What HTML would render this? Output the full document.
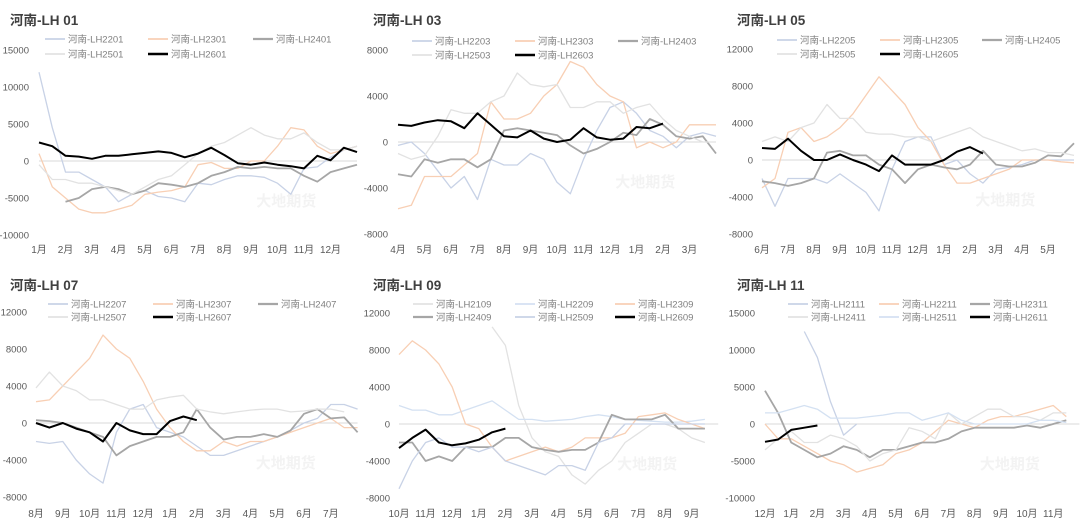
<!DOCTYPE html>
<html><head><meta charset="utf-8"><style>
html,body{margin:0;padding:0;background:#fff;}
svg{display:block;font-family:"Liberation Sans","Noto Sans CJK SC",sans-serif;}
</style></head><body>
<svg id="chart" width="1080" height="529" viewBox="0 0 1080 529"></svg>
<script>
// ---- data (values in yuan, sampled every half month from series start) ----
const months01 = ['1月','2月','3月','4月','5月','6月','7月','8月','9月','10月','11月','12月'];
const months03 = ['4月','5月','6月','7月','8月','9月','10月','11月','12月','1月','2月','3月'];
const months05 = ['6月','7月','8月','9月','10月','11月','12月','1月','2月','3月','4月','5月'];
const months07 = ['8月','9月','10月','11月','12月','1月','2月','3月','4月','5月','6月','7月'];
const months09 = ['10月','11月','12月','1月','2月','3月','4月','5月','6月','7月','8月','9月'];
const months11 = ['12月','1月','2月','3月','4月','5月','6月','7月','8月','9月','10月','11月'];
const ticks01 = [15000,10000,5000,0,-5000,-10000];
const ticks03 = [8000,4000,0,-4000,-8000];
const ticks05 = [12000,8000,4000,0,-4000,-8000];

const lh2201 = [12000,4500,-1500,-1500,-2500,-3500,-5500,-4500,-4000,-4800,-5000,-5500,-3000,-3200,-2500,-2000,-2000,-2200,-3000,-4500,-1000,-800,500,1500,2000];
const lh2301 = [1000,-3500,-5000,-6500,-7000,-7000,-6500,-6000,-4500,-4200,-4000,-3500,-500,-200,-1000,-1000,0,0,2000,4500,4200,2000,1000,1500,2000];
const lh2401 = [-5500,-5000,-3800,-3500,-3800,-4500,-4000,-3000,-3200,-3500,-3000,-2000,-1500,-800,-1000,-800,-1000,-1000,-2000,-2800,-1500,-1000,-500];
const lh2501 = [-500,-2500,-2500,-3000,-3000,-3500,-4000,-4500,-3500,-2500,-2000,-500,1000,2000,2500,3500,4500,3500,3000,3000,3800,2500,1500,1500,2000];
const lh2601 = [2500,2000,700,600,300,700,700,900,1100,1300,1100,500,1000,1800,800,-300,-500,-200,-500,-700,-1000,700,100,1800,1200];

const lh2203 = [-300,0,-1000,-2500,-4000,-3000,-5000,-1500,-2000,-2000,-1000,-1500,-3500,-4500,-1500,1000,3000,3500,2500,1000,500,-500,500,800,500];
const lh2303 = [-5800,-5500,-3000,-3000,-3000,-2000,-1000,3500,2000,2000,2500,4000,5000,7000,6500,5000,4000,3500,-500,0,-500,0,1500,1500,1500];
const lh2403 = [-2800,-3000,-1500,-1800,-1500,-1500,-2200,-1500,1000,1200,1000,800,600,-300,-1000,-600,0,800,600,2000,1500,500,300,500,-1000];
const lh2503 = [-1000,-1500,-1200,500,2800,2500,2500,3500,4000,6000,5000,4800,5000,3000,3000,3500,3500,2500,3000,3300,2000,1000,500,0,0];
const lh2603 = [1500,1400,1700,1900,1800,1200,2500,1500,500,400,1000,300,0,200,1200,400,200,300,1300,1200,1600];

const lh2205 = [-2000,-5000,-2000,-2000,-2000,-2500,-1500,-2500,-3500,-5500,-1000,2000,2500,2500,-500,0,-1500,-2500,-1000,-800,-500,0,0,0,0];
const lh2305 = [-3000,-2000,3000,3500,2000,2500,3500,5000,7000,9000,7500,6000,3500,2000,-500,-2500,-2500,-2000,-1500,-1000,0,0,0,-200,-300];
const lh2405 = [-2300,-2500,-2800,-2500,-2000,800,1000,500,500,-500,-1000,-2500,-1000,-500,-800,-1000,-500,1000,-500,-700,-700,-300,500,400,1800];
const lh2505 = [2000,2500,2000,3500,4000,6000,4500,4500,3000,2800,2800,2500,2500,2000,2500,3000,3500,2500,2000,1500,1000,1200,800,800,500];
const lh2605 = [1300,1200,2300,1000,0,0,600,0,-500,-1200,500,-500,-500,-500,0,900,1400,700];

const lh2207 = [-2000,-2200,-2000,-4000,-5500,-6500,-1000,1500,2000,-500,-1000,-1500,-2500,-3500,-3500,-3000,-2500,-2000,-1500,-800,0,500,2000,2000,1500];
const lh2307 = [2300,2500,4000,5500,7000,9500,8000,7000,4500,1500,-500,-2000,-3000,-3000,-2000,-2500,-2000,-2000,-1500,-1000,-500,0,500,-500,-500];
const lh2407 = [300,200,0,-500,-1000,-1500,-3500,-2500,-2000,-1500,-1500,-1000,1500,-500,-1800,-1500,-1500,-1200,-1500,-800,1000,1500,500,600,-1000];
const lh2507 = [3800,5500,4000,3500,2500,2500,2000,1500,1500,2500,2800,3000,1500,1200,1000,1200,1400,1500,1500,1200,1300,1500,1500,1200];
const lh2607 = [0,-500,0,-600,-1000,-2000,0,-800,-1200,-1200,200,700,300];

const lh2109 = [10500,8500,2000,-1500,-3000,-3500,-5500,-6500,-5000,-4000,-2000,-1000,0,0,-500,-1500,-2000];
const lh2209 = [2000,1500,1500,1000,1000,1500,2000,2500,1500,500,500,300,400,500,800,1000,800,500,400,300,200,200,300,500];
const lh2309 = [7500,9000,8000,6500,4000,0,-500,-2500,-4000,-3500,-3000,-2500,-3000,-2500,-1500,-1500,-1500,-1000,800,1000,1200,500,0,-500];
const lh2409 = [-2000,-2000,-4000,-3500,-4000,-2500,-2500,-2500,-1500,-1500,-2500,-2800,-3000,-2800,-2800,-2000,1000,500,500,500,1000,-500,-500,-500];
const lh2509 = [-7000,-4000,-2000,-1500,-2500,-2500,-3000,-2500,-4000,-4500,-5000,-5500,-4500,-4500,-5000,-2000,-1500,0,0,0,0,0,0,0];
const lh2609 = [-2600,-1500,-600,-2000,-2300,-2100,-1700,-900,-500];

const lh2111 = [12500,9000,3000,-1500,0];
const lh2211 = [0,-2000,-2000,-3000,-4000,-5000,-5500,-6500,-6000,-5500,-4000,-3500,-2500,-1000,500,0,-500,500,1000,1000,1500,2000,2500,1000];
const lh2311 = [4500,1500,-2500,-3500,-4500,-4000,-3000,-3500,-4500,-3500,-3500,-3000,-2500,-2500,-2000,-1000,-500,-500,-500,-500,-200,-500,0,500];
const lh2411 = [-3500,-2000,-1000,-2500,-2500,-1500,-2000,-3000,-5000,-4000,-3500,-500,-1000,-2000,1500,0,1000,2000,2000,1000,1000,500,1500,1500];
const lh2511 = [1500,1500,2000,2500,2000,800,800,800,1000,1200,1500,1500,500,1000,1500,500,0,0,0,0,0,500,500,200];
const lh2611 = [-2400,-2100,-800,-500,-200];

const C_BLUE='#c8d2e6', C_ORANGE='#f8cfb4', C_GRAY='#a6a6a6', C_LIGHT='#e2e2e2', C_LBLUE='#d4e1f2', C_BLACK='#000';

const panels = [
 {title:'河南-LH 01', tx:10, ty:25, x0:39, mw:26.5, zy:161, ppu:37/5000, ticks:ticks01, lr:29, months:months01, my:253, leg:[45,148,253], ly:[39,54],
  series:[['河南-LH2201',C_BLUE,1.3,0,lh2201],['河南-LH2301',C_ORANGE,1.3,0,lh2301],['河南-LH2401',C_GRAY,1.8,1,lh2401],['河南-LH2501',C_LIGHT,1.3,0,lh2501],['河南-LH2601',C_BLACK,2,0,lh2601]]},
 {title:'河南-LH 03', tx:373, ty:25, x0:398, mw:26.5, zy:142, ppu:46/4000, ticks:ticks03, lr:388, months:months03, my:253, leg:[412,515,618], ly:[41,55],
  series:[['河南-LH2203',C_BLUE,1.3,0,lh2203],['河南-LH2303',C_ORANGE,1.3,0,lh2303],['河南-LH2403',C_GRAY,1.8,0,lh2403],['河南-LH2503',C_LIGHT,1.3,0,lh2503],['河南-LH2603',C_BLACK,2,0,lh2603]]},
 {title:'河南-LH 05', tx:737, ty:25, x0:762, mw:26.0, zy:160, ppu:37/4000, ticks:ticks05, lr:753, months:months05, my:253, leg:[777,880,982], ly:[40,54],
  series:[['河南-LH2205',C_BLUE,1.3,0,lh2205],['河南-LH2305',C_ORANGE,1.3,0,lh2305],['河南-LH2405',C_GRAY,1.8,0,lh2405],['河南-LH2505',C_LIGHT,1.3,0,lh2505],['河南-LH2605',C_BLACK,2,0,lh2605]]},
 {title:'河南-LH 07', tx:10, ty:290, x0:36, mw:26.8, zy:423, ppu:37/4000, ticks:ticks05, lr:27, months:months07, my:517, leg:[48,153,258], ly:[304,317],
  series:[['河南-LH2207',C_BLUE,1.3,0,lh2207],['河南-LH2307',C_ORANGE,1.3,0,lh2307],['河南-LH2407',C_GRAY,1.8,0,lh2407],['河南-LH2507',C_LIGHT,1.3,0,lh2507],['河南-LH2607',C_BLACK,2,0,lh2607]]},
 {title:'河南-LH 09', tx:373, ty:290, x0:399, mw:26.6, zy:424, ppu:37/4000, ticks:ticks05, lr:390, months:months09, my:517, leg:[413,515,615], ly:[304,317],
  series:[['河南-LH2109',C_LIGHT,1.3,3.5,lh2109],['河南-LH2209',C_LBLUE,1.3,0,lh2209],['河南-LH2309',C_ORANGE,1.3,0,lh2309],['河南-LH2409',C_GRAY,1.8,0,lh2409],['河南-LH2509',C_BLUE,1.3,0,lh2509],['河南-LH2609',C_BLACK,2,0,lh2609]]},
 {title:'河南-LH 11', tx:737, ty:290, x0:765, mw:26.2, zy:424, ppu:37/5000, ticks:ticks01, lr:755, months:months11, my:517, leg:[788,879,970], ly:[304,317],
  series:[['河南-LH2111',C_BLUE,1.3,1.5,lh2111],['河南-LH2211',C_ORANGE,1.3,0,lh2211],['河南-LH2311',C_GRAY,1.8,0,lh2311],['河南-LH2411',C_LIGHT,1.3,0,lh2411],['河南-LH2511',C_LBLUE,1.3,0,lh2511],['河南-LH2611',C_BLACK,2,0,lh2611]]}
];

const NS='http://www.w3.org/2000/svg';
const svg=document.getElementById('chart');
function mk(tag,attrs,parent){const e=document.createElementNS(NS,tag);for(const k in attrs)e.setAttribute(k,attrs[k]);(parent||svg).appendChild(e);return e;}

panels.forEach((p,pi)=>{
  const g=mk('g',{});
  
  
  const xs=t=>p.x0+t*p.mw;
  const ys=v=>p.zy-v*p.ppu;
  const wm=mk('text',{x:p.x0+8.2*p.mw,y:p.zy+45,'font-size':15,'font-weight':'bold',fill:'#f3f3f3'},g);
  wm.textContent='大地期货';
  
  
  const t=mk('text',{x:p.tx,y:p.ty,'font-size':13.5,'font-weight':'bold',fill:'#404040'},g);
  t.textContent=p.title;
  
  
  p.ticks.forEach(v=>{
    const e=mk('text',{x:p.lr,y:ys(v)+3.5,'font-size':9.5,fill:'#595959','text-anchor':'end'},g);
    e.textContent=v;
    
    
  });
  p.months.forEach((m,i)=>{
    const e=mk('text',{x:xs(i),y:p.my,'font-size':10,fill:'#595959','text-anchor':'middle'},g);
    e.textContent=m;
    
    
  });
  const z=mk('line',{x1:xs(0),x2:xs(12),y1:p.zy,y2:p.zy,stroke:'#d9d9d9','stroke-width':1},g);
  
  
  const order=p.series.map((s,i)=>i).sort((a,b)=>(p.series[a][1]===C_BLACK)-(p.series[b][1]===C_BLACK));
  order.forEach(i=>{
    const s=p.series[i];
    const pts=s[4].map((v,k)=>xs(s[3]+k*0.5).toFixed(1)+','+ys(v).toFixed(1)).join(' ');
    const pl=mk('polyline',{points:pts,fill:'none',stroke:s[1],'stroke-width':s[2],'stroke-linejoin':'round'},g);
    
    
  });
  p.series.forEach((s,i)=>{
    const lx=p.leg[i%3], ly=p.ly[Math.floor(i/3)];
    const lg=mk('g',{},g);
    
    
    mk('line',{x1:lx,x2:lx+20,y1:ly,y2:ly,stroke:s[1],'stroke-width':s[2]+0.4},lg);
    const tx=mk('text',{x:lx+23,y:ly+3.5,'font-size':9.5,fill:'#7f7f7f'},lg);
    tx.textContent=s[0];
  });
});
</script>
</body></html>
